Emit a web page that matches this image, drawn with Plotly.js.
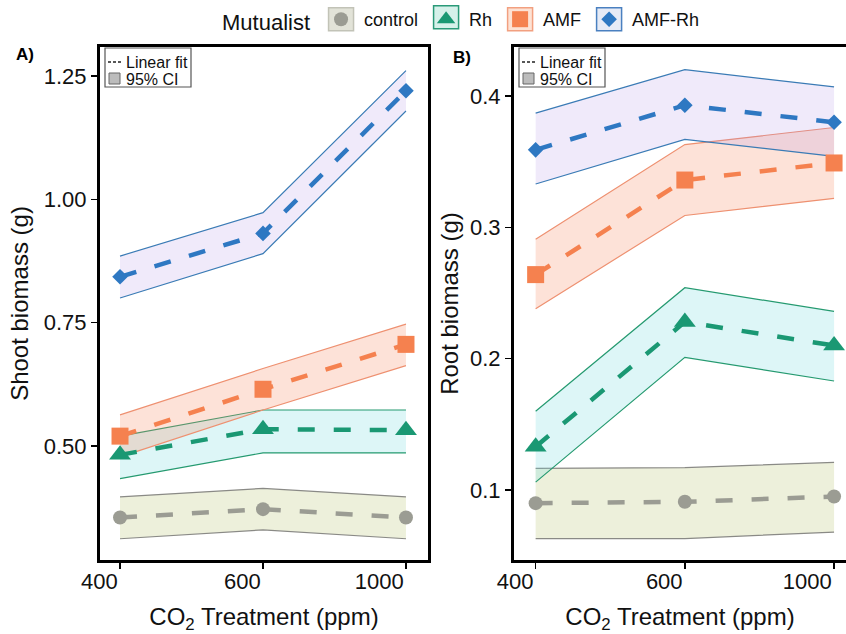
<!DOCTYPE html>
<html><head><meta charset="utf-8">
<script src="https://cdn.plot.ly/plotly-3.0.1.min.js"></script>
<style>html,body{margin:0;padding:0;background:#fff}</style>
</head><body><div id="chart" style="width:846px;height:634px"></div>
<script>
// ---- data ----
const co2 = ['400', '600', '1000'];
const groups = ['control', 'Rh', 'AMF', 'AMF-Rh'];

// Panel A: shoot biomass (g)
const shootMean = {
  'control': [0.355, 0.372, 0.355],
  'Rh':      [0.482, 0.534, 0.532],
  'AMF':     [0.520, 0.615, 0.706],
  'AMF-Rh':  [0.843, 0.931, 1.220]
};
const shootLo = {
  'control': [0.312, 0.330, 0.312],
  'Rh':      [0.434, 0.486, 0.486],
  'AMF':     [0.478, 0.573, 0.663],
  'AMF-Rh':  [0.800, 0.890, 1.179]
};
const shootHi = {
  'control': [0.397, 0.414, 0.397],
  'Rh':      [0.520, 0.573, 0.573],
  'AMF':     [0.563, 0.657, 0.747],
  'AMF-Rh':  [0.885, 0.973, 1.261]
};

// Panel B: root biomass (g)
const rootMean = {
  'control': [0.090, 0.091, 0.095],
  'Rh':      [0.133, 0.228, 0.210],
  'AMF':     [0.264, 0.336, 0.349],
  'AMF-Rh':  [0.359, 0.393, 0.380]
};
const rootLo = {
  'control': [0.063, 0.063, 0.068],
  'Rh':      [0.106, 0.201, 0.183],
  'AMF':     [0.238, 0.309, 0.322],
  'AMF-Rh':  [0.333, 0.367, 0.354]
};
const rootHi = {
  'control': [0.1165, 0.117, 0.121],
  'Rh':      [0.160, 0.254, 0.236],
  'AMF':     [0.291, 0.363, 0.376],
  'AMF-Rh':  [0.387, 0.420, 0.407]
};

// ---- styles ----
const markerColor = {'control':'#9b9c93','Rh':'#1a9873','AMF':'#f5814f','AMF-Rh':'#2e78c2'};
const ciColor     = {'control':'#8a8a86','Rh':'#259a70','AMF':'#ee9070','AMF-Rh':'#3a7bb5'};
const fillColor   = {'control':'rgba(214,222,176,0.45)','Rh':'rgba(120,220,225,0.25)',
                     'AMF':'rgba(246,140,100,0.25)','AMF-Rh':'rgba(170,140,230,0.18)'};
const symbol      = {'control':'circle','Rh':'triangle-up','AMF':'square','AMF-Rh':'diamond'};
const msize       = {'control':14,'Rh':19,'AMF':17,'AMF-Rh':12};
const legBoxFill  = {'control':'#e2e3d8','Rh':'#d6f1ea','AMF':'#fde2d4','AMF-Rh':'#e6ebf6'};
const legBoxLine  = {'control':'#c2c3b7','Rh':'#2a9a78','AMF':'#f2a080','AMF-Rh':'#4a80c0'};

const traces = [];
function addPanel(meanD, loD, hiD, xa, ya) {
  groups.forEach(g => {
    traces.push({x: co2, y: loD[g], xaxis: xa, yaxis: ya, type: 'scatter', mode: 'lines',
      line: {color: ciColor[g], width: 1.2}, showlegend: false, hoverinfo: 'skip'});
    traces.push({x: co2, y: hiD[g], xaxis: xa, yaxis: ya, type: 'scatter', mode: 'lines',
      fill: 'tonexty', fillcolor: fillColor[g],
      line: {color: ciColor[g], width: 1.2}, showlegend: false, hoverinfo: 'skip'});
  });
  groups.forEach(g => {
    traces.push({x: co2, y: meanD[g], xaxis: xa, yaxis: ya, type: 'scatter', mode: 'lines+markers',
      name: g, line: {color: markerColor[g], width: 4.5, dash: '17px,19px'},
      marker: {symbol: symbol[g], size: msize[g], color: markerColor[g]}, showlegend: false});
  });
}
addPanel(shootMean, shootLo, shootHi, 'x', 'y');
addPanel(rootMean, rootLo, rootHi, 'x2', 'y2');
// legend entries
groups.forEach(g => {
  traces.push({x: [null], y: [null], xaxis: 'x', yaxis: 'y', type: 'scatter', mode: 'markers', name: g,
    marker: {symbol: symbol[g], size: Math.min(msize[g], 16), color: markerColor[g]}, showlegend: true});
});

// pixel -> paper helpers (plot area: left 100, right 846, top 47, bottom 560)
const L = 100, R = 846, T = 47, B = 560;
const px = v => (v - L) / (R - L);
const py = v => (B - v) / (B - T);

const shapes = [];
const annotations = [];
// inset "Linear fit / 95% CI" boxes
[0, 414].forEach(off => {
  shapes.push({type:'rect', xref:'paper', yref:'paper', x0:px(105+off), x1:px(191+off), y0:py(87), y1:py(48),
    fillcolor:'#ffffff', line:{color:'#555', width:1.2}, layer:'above'});
  shapes.push({type:'line', xref:'paper', yref:'paper', x0:px(108+off), x1:px(123+off), y0:py(62), y1:py(62),
    line:{color:'#222', width:1.3, dash:'3px,2px'}, layer:'above'});
  shapes.push({type:'rect', xref:'paper', yref:'paper', x0:px(109+off), x1:px(120+off), y0:py(84), y1:py(73),
    fillcolor:'#bcbcbc', line:{color:'#666', width:1}, layer:'above'});
  annotations.push({xref:'paper', yref:'paper', x:px(124+off), y:py(62), xanchor:'left', yanchor:'middle',
    text:'Linear fit', showarrow:false, font:{size:16, color:'#111', family:'Liberation Sans, Arial, sans-serif'}});
  annotations.push({xref:'paper', yref:'paper', x:px(124+off), y:py(79), xanchor:'left', yanchor:'middle',
    text:'95% CI', showarrow:false, font:{size:16, color:'#111', family:'Liberation Sans, Arial, sans-serif'}});
});
annotations.push({xref:'paper', yref:'paper', x:px(25), y:py(54), xanchor:'center', yanchor:'middle',
  text:'<b>A)</b>', showarrow:false, font:{size:17, color:'#000'}});
annotations.push({xref:'paper', yref:'paper', x:px(462), y:py(57), xanchor:'center', yanchor:'middle',
  text:'<b>B)</b>', showarrow:false, font:{size:17, color:'#000'}});

const axFont = {family:'Liberation Sans, Arial, sans-serif', size:22, color:'#111'};
const titleFont = {family:'Liberation Sans, Arial, sans-serif', size:24, color:'#111'};
const baseX = {type:'category', showline:true, mirror:true, linecolor:'#000', linewidth:3,
  ticks:'outside', ticklen:6, tickwidth:1.5, tickcolor:'#000', showgrid:false, zeroline:false,
  ticklabelposition:'outside left',
  tickfont:axFont, title:{text:'CO<sub>2</sub> Treatment (ppm)', font:titleFont, standoff:16}};
const baseY = {showline:true, mirror:true, linecolor:'#000', linewidth:3,
  ticks:'outside', ticklen:6, tickwidth:1.5, tickcolor:'#000', showgrid:false, zeroline:false,
  tickfont:axFont};

const layout = {
  width: 846, height: 634,
  margin: {l: L, r: 846 - R, t: T, b: 634 - B},
  paper_bgcolor: '#fff', plot_bgcolor: '#fff',
  font: {family:'Liberation Sans, Arial, sans-serif', color:'#111'},
  xaxis: Object.assign({}, baseX, {domain:[0, px(428)], range:[-0.14, 2.154], anchor:'y'}),
  yaxis: Object.assign({}, baseY, {domain:[0,1], range:[0.2689, 1.3088], tickvals:[0.5,0.75,1.0,1.25],
    tickformat:'.2f', anchor:'x', title:{text:'Shoot biomass (g)', font:titleFont, standoff:9}}),
  xaxis2: Object.assign({}, baseX, {domain:[px(514), 1], range:[-0.145, 2.08], anchor:'y2'}),
  yaxis2: Object.assign({}, baseY, {domain:[0,1], range:[0.0467, 0.4373], tickvals:[0.1,0.2,0.3,0.4],
    tickformat:'.1f', anchor:'x2', title:{text:'Root biomass (g)', font:titleFont, standoff:5}}),
  legend: {orientation:'h', x: px(220), y: py(1), xanchor:'left', yanchor:'top',
    traceorder:'normal', itemwidth:36,
    bgcolor:'rgba(0,0,0,0)', borderwidth:0,
    title:{text:'Mutualist', side:'left', font:{size:22, color:'#111'}},
    font:{size:18, color:'#111'}},
  shapes: shapes,
  annotations: annotations
};
Plotly.newPlot('chart', traces, layout, {displayModeBar:false, staticPlot:true}).then(gd => {
  // frame each legend key with a box centred on its symbol, as in the reference
  const pts = gd.querySelectorAll('.legend .traces .legendpoints');
  const extra = [];
  pts.forEach((el, i) => {
    const g = groups[i];
    const r = el.getBoundingClientRect();
    if (!g || r.width === 0) return;
    const cx = r.left + r.width / 2, cy = r.top + r.height / 2;
    extra.push({type:'rect', xref:'paper', yref:'paper',
      x0: px(cx - 12.5), x1: px(cx + 12.5), y0: py(cy + 11.5), y1: py(cy - 11.5),
      fillcolor: legBoxFill[g], line: {color: legBoxLine[g], width: 1.5}, layer: 'below'});
  });
  return Plotly.relayout(gd, {shapes: shapes.concat(extra)});
});
</script></body></html>
